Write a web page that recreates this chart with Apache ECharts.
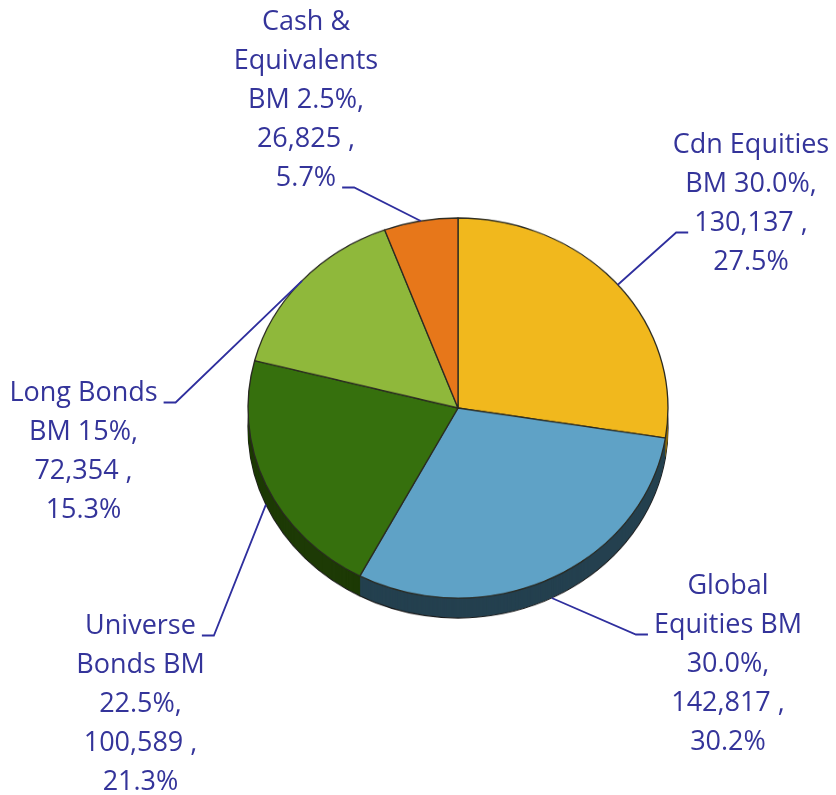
<!DOCTYPE html>
<html>
<head>
<meta charset="utf-8">
<title>Asset Mix</title>
<script src="https://cdn.jsdelivr.net/npm/echarts@6/dist/echarts.min.js"></script>
<style>
  html, body { margin: 0; padding: 0; background: #ffffff; }
  #wrap { position: relative; width: 836px; height: 795px; overflow: hidden; }
  #pie, #labels { position: absolute; left: 0; top: 0; width: 836px; height: 795px; }
  /* tilt the disc: squash the pie drawing vertically around its centre */
  #pie { transform-origin: 0 408px; transform: scaleY(0.905); }
</style>
</head>
<body>
<div id="wrap">
  <div id="pie"></div>
  <div id="labels"></div>
</div>
<script>
// Asset classes (label text keeps its own line breaks)
const categories = [
  'Cdn Equities\nBM 30.0%',
  'Global\nEquities BM\n30.0%',
  'Universe\nBonds BM\n22.5%',
  'Long Bonds\nBM 15%',
  'Cash &\nEquivalents\nBM 2.5%'
];
// Market value held in each class
const holdings = [130137, 142817, 100589, 72354, 26825];

// Colours of the top face and of the rim
const faceColors = ['#f1b81d', '#5fa2c6', '#36700d', '#8fb83b', '#e7771a'];
const sideColors = ['#8a690f', '#24404f', '#1d3a05', '#50701d', '#84440e'];

// Geometry of the disc
const CX = 458, CY = 408, R = 210;
const TILT = 0.905;          // vertical squash applied to #pie
const DEPTH = 22;            // rim thickness, before the squash

// Where each label block sits and which of its lines carries the leader
const placement = [
  { x: 751, y: 126, line: 2, side: 'left' },
  { x: 728, y: 567, line: 1, side: 'left' },
  { x: 140.5, y: 607, line: 0, side: 'right' },
  { x: 83.5, y: 374, line: 0, side: 'right' },
  { x: 306, y: 3, line: 4, side: 'right' }
];
const FONT_SIZE = 27, LINE_H = 39, GAP = 6, STUB = 12;
const FONT_FAMILY = '"Open Sans", sans-serif';
const TEXT_COLOR = '#34349a';

const total = holdings.reduce((a, b) => a + b, 0);
function fmtNum(v) { return v.toLocaleString('en-US'); }
function labelText(i) {
  const pct = (holdings[i] / total * 100).toFixed(1);
  return categories[i] + ',\n' + fmtNum(holdings[i]) + ' ,\n' + pct + '%';
}

// ---- the disc: stacked rim layers, then the top face ----
const pieChart = echarts.init(document.getElementById('pie'), null, { renderer: 'canvas' });
const pieSeries = [];
for (let j = DEPTH; j >= 1; j--) {
  const bottom = j === DEPTH;
  pieSeries.push({
    type: 'pie',
    z: 1,
    zlevel: 0,
    center: [CX, CY + j],
    radius: R,
    startAngle: 90,
    clockwise: true,
    silent: true,
    animation: false,
    avoidLabelOverlap: false,
    label: { show: false },
    labelLine: { show: false },
    emphasis: { disabled: true },
    itemStyle: bottom ? { borderColor: '#1b1b1b', borderWidth: 1.2 } : { borderWidth: 0 },
    data: holdings.map((v, i) => ({ value: v, name: categories[i], itemStyle: { color: sideColors[i] } }))
  });
}
pieSeries.push({
  type: 'pie',
  z: 3,
  center: [CX, CY],
  radius: R,
  startAngle: 90,
  clockwise: true,
  silent: true,
  animation: false,
  avoidLabelOverlap: false,
  label: { show: false },
  labelLine: { show: false },
  emphasis: { disabled: true },
  itemStyle: { borderColor: '#2a2a22', borderWidth: 1.3 },
  data: holdings.map((v, i) => ({ value: v, name: categories[i], itemStyle: { color: faceColors[i] } }))
});
pieChart.setOption({ animation: false, series: pieSeries });

// ---- labels and leader lines ----
const measureCtx = document.createElement('canvas').getContext('2d');
measureCtx.font = FONT_SIZE + 'px ' + FONT_FAMILY;

const labelChart = echarts.init(document.getElementById('labels'), null, { renderer: 'canvas' });
labelChart.setOption({
  animation: false,
  series: [{
    type: 'pie',
    center: [CX, CY],
    radius: R,
    startAngle: 90,
    clockwise: true,
    silent: true,
    avoidLabelOverlap: false,
    itemStyle: { color: 'rgba(0,0,0,0)', borderWidth: 0 },
    emphasis: { disabled: true },
    label: {
      show: true,
      position: 'outside',
      formatter: p => labelText(p.dataIndex),
      color: TEXT_COLOR,
      fontFamily: FONT_FAMILY,
      fontSize: FONT_SIZE,
      lineHeight: LINE_H,
      align: 'center'
    },
    labelLine: {
      show: true,
      length: 20,
      length2: 10,
      smooth: false,
      lineStyle: { color: '#2f2f9e', width: 1.8 }
    },
    labelLayout: function (params) {
      const i = params.dataIndex;
      const p = placement[i];
      const lines = labelText(i).split('\n');
      const lw = measureCtx.measureText(lines[p.line]).width;
      const stubY = p.y + p.line * LINE_H + LINE_H / 2 + 9;
      const inner = p.side === 'right' ? p.x + lw / 2 + GAP : p.x - lw / 2 - GAP;
      const outer = p.side === 'right' ? inner + STUB : inner - STUB;
      const a = params.labelLinePoints[0];
      // edge point on the tilted disc; lower half attaches to the rim bottom
      const ay = CY + (a[1] - CY) * TILT + (a[1] > CY ? DEPTH * TILT : 0);
      return {
        x: p.x,
        y: p.y,
        align: 'center',
        verticalAlign: 'top',
        labelLinePoints: [[a[0], ay], [outer, stubY], [inner, stubY]]
      };
    },
    data: holdings.map((v, i) => ({ value: v, name: categories[i] }))
  }]
});
</script>
</body>
</html>
